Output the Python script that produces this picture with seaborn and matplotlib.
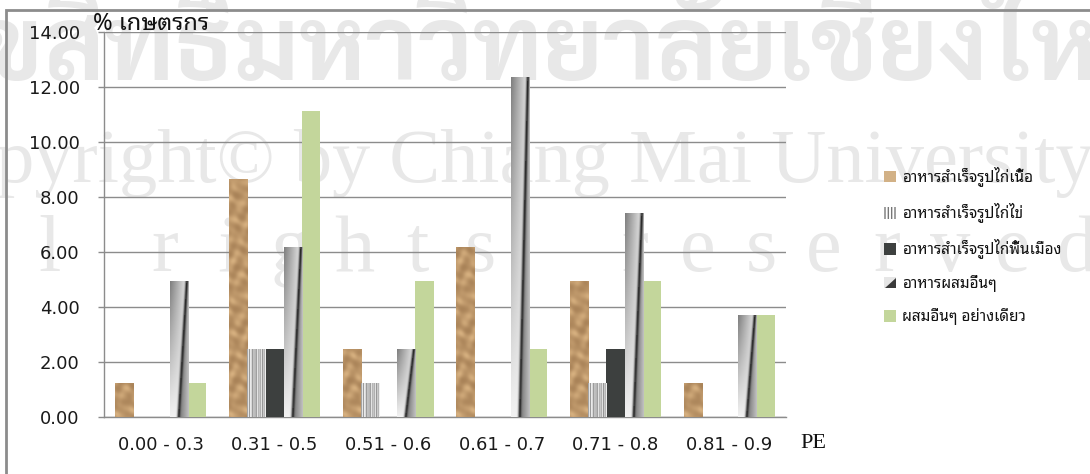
import matplotlib
matplotlib.use("Agg")
import numpy as np
import pandas as pd
import seaborn as sns
import matplotlib.pyplot as plt
from matplotlib.patches import Patch, Rectangle, Polygon
from matplotlib.legend_handler import HandlerBase

# ---------------- data ----------------
categories = ["0.00 - 0.3", "0.31 - 0.5", "0.51 - 0.6", "0.61 - 0.7", "0.71 - 0.8", "0.81 - 0.9"]
series_names = ["อาหารสำเร็จรูปไก่เนื้อ", "อาหารสำเร็จรูปไก่ไข่", "อาหารสำเร็จรูปไก่พื้นเมือง",
                "อาหารผสมอื่นๆ", "ผสมอื่นๆ อย่างเดียว"]
broiler_feed = [1.23, 8.64, 2.47, 6.17, 4.94, 1.23]
layer_feed = [0.0, 2.47, 1.23, 0.0, 1.23, 0.0]
native_feed = [0.0, 2.47, 0.0, 0.0, 2.47, 0.0]
mixed_feed = [4.94, 6.17, 2.47, 12.35, 7.41, 3.70]
mixed_only = [1.23, 11.11, 4.94, 2.47, 4.94, 3.70]
y_ticks = [0, 2, 4, 6, 8, 10, 12, 14]
y_label = "% เกษตรกร"
x_label = "PE"
wm_thai = "ลิขสิทธิ์มหาวิทยาลัยเชียงใหม่"
wm_copy = "Copyright© by Chiang Mai University"
wm_rights = "All rights reserved"

sns.set_theme(style="white")
plt.rcParams["font.family"] = ["DejaVu Sans", "Noto Sans Thai Looped"]
thai_font = ["Noto Sans Thai Looped", "DejaVu Sans"]
thai_wm_font = ["Sarabun", "Noto Sans Thai Looped", "DejaVu Sans"]

df = pd.DataFrame({
    "PE": categories * 5,
    "series": sum([[s] * len(categories) for s in series_names], []),
    "value": broiler_feed + layer_feed + native_feed + mixed_feed + mixed_only,
})

W, H = 1090, 474
fig = plt.figure(figsize=(W / 100, H / 100), dpi=100)
fig.patch.set_facecolor("white")

def fx(px):
    return px / W

def fy(py):
    return 1 - py / H

# watermark (behind the chart)
wm_col = "#e8e8e8"
fig.text(fx(540), fy(80), wm_thai, fontsize=74, fontweight="bold", color=wm_col,
         ha="center", va="baseline", family=thai_wm_font, zorder=-5)
fig.text(fx(-93), fy(182), wm_copy, fontsize=55, color=wm_col, ha="left", va="baseline",
         family=["Liberation Serif"], zorder=-5)
x = -76
spaces = iter([52, 92])
for ch in wm_rights:
    if ch == " ":
        x += next(spaces)
        continue
    fig.text(fx(x), fy(271), ch, fontsize=58, color=wm_col, ha="center", va="baseline",
             family=["Liberation Serif"], zorder=-5)
    x += 63

# outer border
fig.patches.append(Rectangle((fx(6), fy(500)), 1.2, fy(10) - fy(500), transform=fig.transFigure,
                             fill=False, edgecolor="#8c8c8c", linewidth=2, zorder=-4))

ax = fig.add_axes([fx(104), fy(417), fx(786) - fx(104), fy(32) - fy(417)])
ax.patch.set_alpha(0)

palette = ["#c9a57a", "#d8d8d8", "#3d403f", "#8a8a8a", "#c3d69b"]
sns.barplot(data=df, x="PE", y="value", hue="series", hue_order=series_names, order=categories,
            palette=palette, width=0.8, saturation=1, ax=ax, legend=False, linewidth=0, zorder=3)

# ---------------- textures ----------------
px_per_unit = (417 - 32) / 14.0

def tex_broiler(h_px, w_px):
    r = np.arange(h_px)[:, None]
    c = np.arange(w_px)[None, :]
    t = (np.sin(0.33 * r + 1.3 * np.sin(0.31 * c + 0.05 * r))
         + 0.7 * np.sin(0.17 * r - 0.45 * c + 2.0)
         + 0.5 * np.sin(0.61 * r + 0.23 * c))
    t = (t - t.min()) / (np.ptp(t) + 1e-9)
    light = np.array([0.84, 0.69, 0.50])
    dark = np.array([0.45, 0.30, 0.16])
    mix = t[..., None] ** 1.3
    return light * (0.55 + 0.45 * mix) + dark * (1 - mix) * 0.45

def tex_layer(h_px, w_px):
    pattern = np.array([0.62, 0.95, 0.55, 0.9, 0.98, 0.5, 0.85, 0.6, 0.95, 0.45, 0.8, 0.97,
                        0.55, 0.9, 0.6, 0.98, 0.5, 0.85, 0.7, 0.95])
    row = np.interp(np.linspace(0, len(pattern) - 1, w_px), np.arange(len(pattern)), pattern)
    g = np.tile(row, (h_px, 1))
    return np.dstack([g, g, g])

def tex_mixed(h_px, w_px):
    v = np.linspace(0, 1, h_px)[:, None]
    u = np.linspace(0, 1, w_px)[None, :]
    c = 0.45 + 0.45 * v
    base = 0.95 - 0.45 * (1 - u) * v
    line = np.exp(-((u - c) / 0.08) ** 2)
    right = np.where(u > c, 0.75 - 0.3 * (1 - (u - c) / (1 - c + 1e-6)), base)
    g = np.clip(right * (1 - 0.75 * line), 0, 1)
    return np.dstack([g, g, g])

textures = [tex_broiler, tex_layer, None, tex_mixed, None]
for cont, tex in zip(ax.containers, textures):
    if tex is None:
        continue
    for p in cont.patches:
        h = p.get_height()
        if h <= 0:
            continue
        hp = max(2, int(round(h * px_per_unit)))
        img = tex(hp, 20)
        x0 = p.get_x()
        im = ax.imshow(img, extent=(x0, x0 + p.get_width(), 0, h), origin="lower",
                       aspect="auto", interpolation="bilinear", zorder=3.5)
        im.set_clip_path(p)

ax.set_xlim(-0.5, len(categories) - 0.5)
ax.set_ylim(0, 14)
ax.set_yticks(y_ticks)
ax.set_yticklabels([f"{v:.2f}" for v in y_ticks], fontsize=13, color="#1a1a1a")
ax.set_xticks(range(len(categories)))
ax.set_xticklabels(categories, fontsize=13, color="#1a1a1a")
ax.set_xticks(np.arange(-0.5, len(categories)), minor=True)
ax.tick_params(axis="x", which="major", length=0, pad=14)
ax.tick_params(axis="x", which="minor", length=4.5, width=1, color="#8c8c8c", direction="out")
ax.tick_params(axis="y", length=4.5, width=1, color="#8c8c8c", direction="out", pad=13, left=True)
ax.set_xlabel("")
ax.set_ylabel("")
ax.grid(axis="y", color="#8c8c8c", linewidth=1, zorder=1)
ax.set_axisbelow(True)
for s in ["top", "right"]:
    ax.spines[s].set_visible(False)
for s in ["left", "bottom"]:
    ax.spines[s].set_color("#8c8c8c")
    ax.spines[s].set_linewidth(1)

fig.text(fx(93), fy(30), y_label, fontsize=17, color="#111111", ha="left", va="baseline",
         family=thai_font)
fig.text(fx(800), fy(448), x_label, fontsize=16, color="#111111", ha="left", va="baseline",
         family=["Liberation Serif"])

# ---------------- legend ----------------
class SplitHandler(HandlerBase):
    def create_artists(self, legend, orig, xd, yd, width, height, fontsize, trans):
        bg = Rectangle((xd, yd), width, height, facecolor="#e6e6e6", edgecolor="none", transform=trans)
        tri = Polygon([(xd + width * 0.1, yd), (xd + width, yd), (xd + width, yd + height * 0.9)],
                      closed=True, facecolor="#3a3a3a", edgecolor="none", transform=trans)
        return [bg, tri]

handles = [
    Patch(facecolor="#d2b186", edgecolor="none"),
    Patch(facecolor="white", edgecolor="#777777", hatch="|||||", linewidth=0),
    Patch(facecolor="#3d403f", edgecolor="none"),
    Patch(facecolor="#888888", edgecolor="none"),
    Patch(facecolor="#c3d69b", edgecolor="none"),
]
leg = fig.legend(handles, series_names, loc="upper left", bbox_to_anchor=(fx(878), fy(161)),
                 frameon=False, handlelength=0.75, handleheight=0.75, handletextpad=0.45,
                 labelspacing=1.05, borderaxespad=0, handler_map={handles[3]: SplitHandler()},
                 prop={"family": thai_font, "size": 11})
for t in leg.get_texts():
    t.set_color("#111111")

fig.savefig("out.png", dpi=100)
